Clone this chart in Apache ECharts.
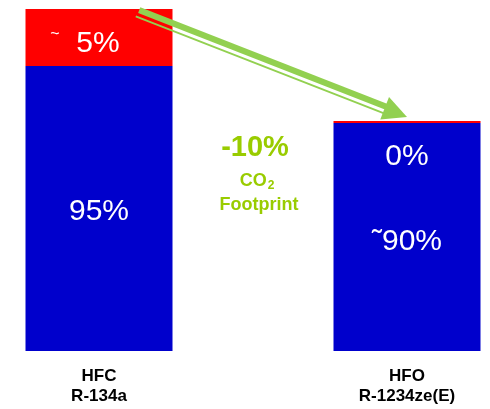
<!DOCTYPE html>
<html>
<head>
<meta charset="utf-8">
<script src="https://cdn.jsdelivr.net/npm/echarts@6/dist/echarts.min.js"></script>
<style>
  html, body { margin: 0; padding: 0; background: #ffffff; }
  #chart { width: 490px; height: 409px; }
</style>
</head>
<body>
<div id="chart"></div>
<script>
// Refrigerant CO2 footprint split: direct (red) vs. indirect (blue) share, %
const categories = ['HFC\nR-134a', 'HFO\nR-1234ze(E)'];
const indirectShare = [95, 90];
const directShare = [5, 0];
const indirectLabels = ['95%', '\u02DC90%'];
const directLabels = ['{t|~}{v|  5%}', '{v|0%}'];

const GREEN_TEXT = '#99cc00';
const GREEN_ARROW = '#92d050';
const FONT = 'Liberation Sans, Arial, sans-serif';

// An empty slot between the two refrigerants leaves room for the annotation
const slots = [categories[0], '', categories[1]];
const spread = arr => [arr[0], '-', arr[1]];
const slotIndex = i => (i === 0 ? 0 : 1);

// Arrow from the HFC bar top towards the HFO bar top
function arrowShapes(start, tip) {
  const dx = tip[0] - start[0], dy = tip[1] - start[1];
  const len = Math.hypot(dx, dy);
  const u = [dx / len, dy / len];
  const n = [-u[1], u[0]];
  const headLen = 24, headHalf = 12;
  const base = [tip[0] - u[0] * headLen, tip[1] - u[1] * headLen];
  const off = (p, k, extra) => [p[0] + n[0] * k + u[0] * (extra || 0), p[1] + n[1] * k + u[1] * (extra || 0)];
  const a1 = off(start, -2), a2 = off(base, -2, 2);
  const b1 = off(start, 5, -1), b2 = off(base, 5, 2);
  return [
    { type: 'line', z: 100, shape: { x1: a1[0], y1: a1[1], x2: a2[0], y2: a2[1] },
      style: { stroke: GREEN_ARROW, lineWidth: 6 } },
    { type: 'line', z: 100, shape: { x1: b1[0], y1: b1[1], x2: b2[0], y2: b2[1] },
      style: { stroke: GREEN_ARROW, lineWidth: 1.8 } },
    { type: 'polygon', z: 100, shape: { points: [tip, off(base, headHalf), off(base, -headHalf)] },
      style: { fill: GREEN_ARROW } }
  ];
}

const chart = echarts.init(document.getElementById('chart'), null, { renderer: 'canvas' });

chart.setOption({
  animation: false,
  backgroundColor: '#ffffff',
  grid: { left: 22, right: 6, top: 9, bottom: 58 },
  xAxis: {
    type: 'category',
    data: slots,
    axisLine: { show: false },
    axisTick: { show: false },
    axisLabel: {
      color: '#000000',
      fontFamily: FONT,
      fontWeight: 'bold',
      fontSize: 17,
      lineHeight: 20,
      margin: 15,
      interval: 0
    }
  },
  yAxis: {
    type: 'value',
    min: 70,
    max: 100,
    show: false,
    splitLine: { show: false }
  },
  series: [
    {
      name: 'Indirect',
      type: 'bar',
      stack: 'total',
      barWidth: 147,
      data: spread(indirectShare),
      itemStyle: { color: '#0000cc' },
      label: {
        show: true,
        position: 'inside',
        color: '#ffffff',
        fontFamily: FONT,
        fontSize: 30,
        formatter: p => indirectLabels[slotIndex(p.dataIndex)]
      }
    },
    {
      name: 'Direct',
      type: 'bar',
      stack: 'total',
      barWidth: 147,
      barMinHeight: 2,
      data: spread(directShare),
      itemStyle: { color: '#ff0000' },
      label: {
        show: true,
        color: '#ffffff',
        fontFamily: FONT,
        formatter: p => directLabels[slotIndex(p.dataIndex)],
        rich: {
          t: { fontSize: 16, color: '#ffffff', fontFamily: FONT, padding: [0, 0, 18, 0] },
          v: { fontSize: 30, color: '#ffffff', fontFamily: FONT }
        }
      }
    }
  ],
  graphic: [
    ...arrowShapes([138.5, 12], [407, 117]),
    { type: 'text', z: 100, x: 255, y: 148,
      style: { text: '-10%', fill: GREEN_TEXT, font: 'bold 29px ' + FONT, textAlign: 'center', textVerticalAlign: 'middle' } },
    { type: 'text', z: 100, x: 257, y: 181,
      style: { text: '{a|CO}{s|2}', textAlign: 'center', textVerticalAlign: 'middle',
        rich: {
          a: { fill: GREEN_TEXT, font: 'bold 18px ' + FONT },
          s: { fill: GREEN_TEXT, font: 'bold 12px ' + FONT, padding: [10, 0, 0, 1] }
        } } },
    { type: 'text', z: 100, x: 259, y: 205,
      style: { text: 'Footprint', fill: GREEN_TEXT, font: 'bold 18px ' + FONT, textAlign: 'center', textVerticalAlign: 'middle' } }
  ]
});

// Per-bar label placement
chart.setOption({
  series: [
    {
      data: [
        { value: indirectShare[0], label: { offset: [0, 3] } },
        '-',
        { value: indirectShare[1], label: { offset: [0, 5] } }
      ]
    },
    {
      data: [
        { value: directShare[0], label: { position: 'inside', offset: [-14, 6] } },
        '-',
        { value: directShare[1], label: { position: 'bottom', distance: 19 } }
      ]
    }
  ]
});
</script>
</body>
</html>
